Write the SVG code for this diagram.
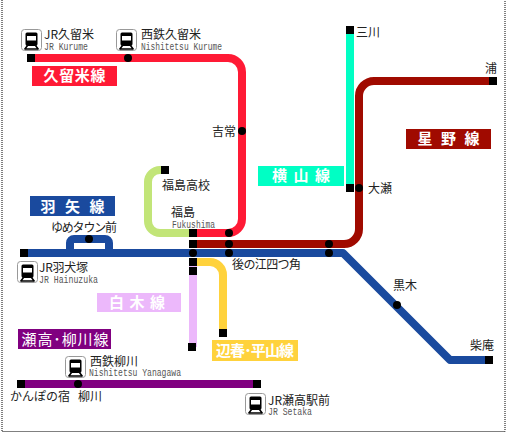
<svg xmlns="http://www.w3.org/2000/svg" width="507" height="435" viewBox="0 0 507 435">
<style>
.l{fill:none;stroke-width:8;stroke-linejoin:round}
.s{fill:#000}
text{font-family:"Noto Sans CJK JP","Noto Sans",sans-serif;fill:#222}
.n{font-size:12px}
.e{font-size:10px;fill:#555;font-family:"Liberation Mono",monospace}
.t{font-size:15px;font-weight:700;fill:#fff;text-anchor:middle}
</style>
<defs>
<symbol id="train" viewBox="0 0 21 22" width="21" height="22">
<rect x="0.5" y="0.5" width="20" height="21" rx="3" fill="#fff" stroke="#999"/>
<path d="M6 3.500h9a1.500 1.500 0 0 1 1.500 1.500v10a2 2 0 0 1-2 2h-8a2 2 0 0 1-2-2V5a1.500 1.500 0 0 1 1.500-1.500z" fill="#000"/>
<rect x="6" y="7" width="9" height="4.500" fill="#fff"/>
<path d="M6.500 16.500 3.500 20.500M14.500 16.500l3 4M3.500 20h14" stroke="#000" stroke-width="1.500" fill="none"/>
</symbol>
</defs>
<rect x="2" y="-2" width="503" height="433.500" fill="#fff" stroke="#000" stroke-dasharray="1 1"/>
<g id="connectors">
<path class="l" stroke="#ff1a35" d="M27 58H228a14 14 0 0 1 14 14V219a14 14 0 0 1-14 14H193"/>
<path class="l" stroke="#00ffc4" d="M350 30V188"/>
<path class="l" stroke="#a00a00" d="M193 244H344a15 15 0 0 0 15-15V96a15 15 0 0 1 15-15H493"/>
<path class="l" stroke="#c2e578" d="M165 170H160a12 12 0 0 0-12 12V221a12 12 0 0 0 12 12H193"/>
<path class="l" stroke="#ecb8fb" d="M193 262V347"/>
<path class="l" stroke="#ffd23c" d="M193 262H210a13 13 0 0 1 13 13V333"/>
<path class="l" stroke="#800080" d="M21 384H257"/>
<path class="l" stroke="#1a4a9e" d="M24 253H343L450 360H489M70 253V243a4 4 0 0 1 4-4H105a4 4 0 0 1 4 4V253"/>
</g>
<g id="stations">
<g class="s">
<rect x="27" y="54" width="8" height="8"/>
<rect x="346" y="26" width="8" height="8"/>
<rect x="489" y="77" width="8" height="8"/>
<rect x="161" y="166" width="8" height="8"/>
<rect x="20" y="249" width="8" height="8"/>
<rect x="189" y="229" width="8" height="8"/>
<rect x="189" y="240" width="8" height="8"/>
<rect x="189" y="258" width="8" height="8"/>
<rect x="189" y="267" width="8" height="8"/>
<rect x="188" y="343" width="8" height="8"/>
<rect x="219" y="329" width="8" height="8"/>
<rect x="346" y="184" width="8" height="8"/>
<rect x="485" y="356" width="8" height="8"/>
<rect x="17" y="380" width="8" height="8"/>
<rect x="253" y="380" width="8" height="8"/>
<circle cx="128" cy="58" r="4"/>
<circle cx="242" cy="131" r="4"/>
<circle cx="359" cy="188" r="4"/>
<circle cx="89" cy="239" r="4"/>
<circle cx="193" cy="253" r="4"/>
<circle cx="229" cy="233" r="4"/>
<circle cx="229" cy="244" r="4"/>
<circle cx="229" cy="253" r="4"/>
<circle cx="329" cy="244" r="4"/>
<circle cx="329" cy="253" r="4"/>
<circle cx="397" cy="305" r="4"/>
<circle cx="78" cy="384" r="4"/>
</g>
<use href="#train" x="21" y="29"/>
<use href="#train" x="116" y="29"/>
<use href="#train" x="17" y="261"/>
<use href="#train" x="65" y="356"/>
<use href="#train" x="245" y="393"/>
</g>
<g id="line-labels">
<g id="kurume-line"><rect x="32" y="66" width="85" height="20" fill="#ff1a35"/><text class="t" x="74.500" y="81" textLength="62">久留米線</text></g>
<g id="hoshino-line"><rect x="406" y="129" width="85" height="20" fill="#a00a00"/><text class="t" x="448.500" y="144" textLength="62">星 野 線</text></g>
<g id="yokoyama-line"><rect x="258" y="166" width="86" height="20" fill="#00ffc4"/><text class="t" x="301" y="181" textLength="58">横 山 線</text></g>
<g id="haya-line"><rect x="30" y="196" width="85" height="20" fill="#1a4a9e"/><text class="t" x="72.500" y="212" textLength="64">羽 矢 線</text></g>
<g id="shiraki-line"><rect x="97" y="293" width="84" height="19" fill="#ecb8fb"/><text class="t" x="137" y="308" textLength="56">白 木 線</text></g>
<g id="setaka-line"><rect x="18" y="329" width="93" height="20" fill="#800080"/><text class="t" x="65" y="345" textLength="87" style="font-weight:400">瀬高･柳川線</text></g>
<g id="hebaru-line"><rect x="212" y="340" width="86" height="21" fill="#ffd23c"/><text class="t" x="255" y="356" textLength="78">辺春･平山線</text></g>
</g>
<g id="station-labels">
<text class="n" x="44" y="39">JR久留米</text><text class="e" x="44" y="50" textLength="44" lengthAdjust="spacingAndGlyphs">JR Kurume</text>
<text class="n" x="141" y="39">西鉄久留米</text><text class="e" x="141" y="50" textLength="81" lengthAdjust="spacingAndGlyphs">Nishitetsu Kurume</text>
<text class="n" x="212" y="136">吉常</text>
<text class="n" x="356" y="37">三川</text>
<text class="n" x="485" y="73">浦</text>
<text class="n" x="368" y="193">大瀬</text>
<text class="n" x="162" y="190">福島高校</text>
<text class="n" x="171" y="217">福島</text><text class="e" x="172" y="228" textLength="43" lengthAdjust="spacingAndGlyphs">Fukushima</text>
<text class="n" x="51" y="232" textLength="66">ゆめタウン前</text>
<text class="n" x="39" y="272" textLength="49">JR羽犬塚</text><text class="e" x="39" y="283" textLength="59" lengthAdjust="spacingAndGlyphs">JR Hainuzuka</text>
<text class="n" x="232" y="269" textLength="69">後の江四つ角</text>
<text class="n" x="393" y="290">黒木</text>
<text class="n" x="470" y="350">柴庵</text>
<text class="n" x="90" y="366">西鉄柳川</text><text class="e" x="89" y="376" textLength="92" lengthAdjust="spacingAndGlyphs">Nishitetsu Yanagawa</text>
<text class="n" x="10" y="401" fill="#000">かんぽの宿</text>
<text class="n" x="78" y="401" fill="#000">柳川</text>
<text class="n" x="268" y="405">JR瀬高駅前</text><text class="e" x="268" y="415" textLength="44" lengthAdjust="spacingAndGlyphs">JR Setaka</text>
</g>
</svg>
